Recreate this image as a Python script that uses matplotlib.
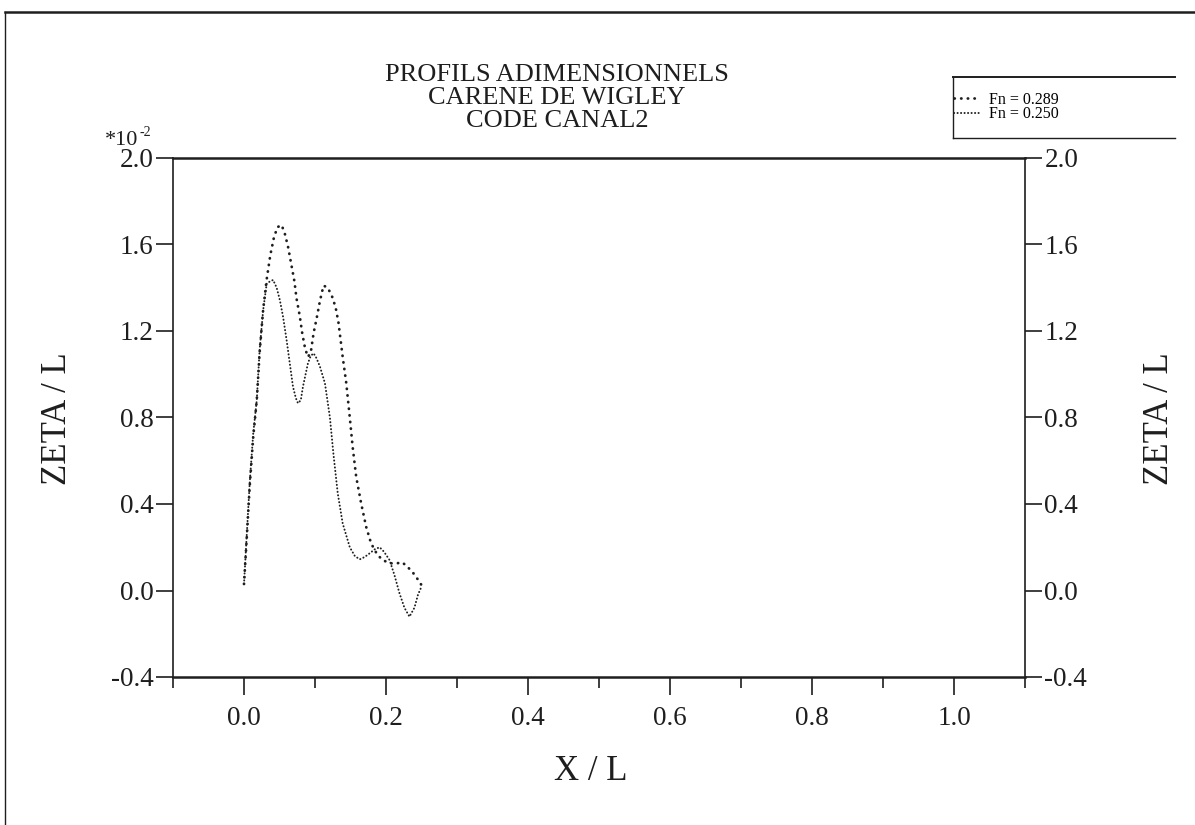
import matplotlib
matplotlib.use('Agg')
import matplotlib.pyplot as plt
from matplotlib.lines import Line2D
import numpy as np

plt.rcParams['font.family'] = ['Liberation Serif', 'DejaVu Serif']

# Fn = 0.289 (sparse dots)
x289 = [0.0, 0.004, 0.008, 0.013, 0.018, 0.022, 0.027, 0.032, 0.037, 0.042, 0.047, 0.053,
        0.0575, 0.062, 0.0665, 0.071, 0.0740, 0.0785, 0.082, 0.086, 0.090, 0.094, 0.098, 0.103,
        0.107, 0.112, 0.118, 0.124, 0.129, 0.133, 0.139, 0.144, 0.149, 0.153, 0.158, 0.165,
        0.172, 0.179, 0.188, 0.196, 0.205, 0.214, 0.223, 0.230, 0.237, 0.244, 0.250]
y289 = [0.03, 0.25, 0.48, 0.71, 0.88, 1.10, 1.30, 1.44, 1.55, 1.63, 1.68, 1.69,
        1.65, 1.59, 1.51, 1.43, 1.35, 1.27, 1.19, 1.12, 1.08, 1.10, 1.19, 1.27,
        1.34, 1.41, 1.40, 1.36, 1.31, 1.24, 1.08, 0.96, 0.80, 0.665, 0.526, 0.403,
        0.295, 0.218, 0.164, 0.14, 0.126, 0.125, 0.13, 0.11, 0.087, 0.055, 0.025]

# Fn = 0.250 (dense dots)
x250 = [0.0, 0.004, 0.008, 0.013, 0.018, 0.022, 0.027, 0.032, 0.037, 0.041, 0.046, 0.0505,
        0.055, 0.060, 0.0645, 0.069, 0.073, 0.076, 0.080, 0.083, 0.090, 0.094, 0.098, 0.102,
        0.107, 0.114, 0.121, 0.126, 0.132, 0.139, 0.149, 0.156, 0.163, 0.170, 0.177, 0.184,
        0.191, 0.197, 0.205, 0.212, 0.219, 0.226, 0.233, 0.240, 0.245, 0.250]
y250 = [0.03, 0.265, 0.496, 0.727, 0.881, 1.112, 1.297, 1.42, 1.43, 1.436, 1.40, 1.343,
        1.266, 1.158, 1.05, 0.942, 0.89, 0.866, 0.88, 0.942, 1.05, 1.085, 1.097, 1.075,
        1.035, 0.958, 0.80, 0.63, 0.45, 0.31, 0.20, 0.16, 0.144, 0.155, 0.172, 0.19,
        0.20, 0.18, 0.141, 0.07, -0.013, -0.08, -0.121, -0.08, -0.02, 0.018]

xticks = [0.0, 0.2, 0.4, 0.6, 0.8, 1.0]
xminor = [-0.1, 0.1, 0.3, 0.5, 0.7, 0.9, 1.1]
yticks = [-0.4, 0.0, 0.4, 0.8, 1.2, 1.6, 2.0]

title_lines = ['PROFILS ADIMENSIONNELS', 'CARENE DE WIGLEY', 'CODE CANAL2']
labels = ['Fn = 0.289', 'Fn = 0.250']

ink = '#1e1e1e'
W, H = 1195.0, 825.0

fig = plt.figure(figsize=(11.95, 8.25), dpi=100)
ax = fig.add_axes([173 / W, 1 - 677 / H, (1025 - 173) / W, (677 - 158) / H])

l1, = ax.plot(x289, y289, color=ink, lw=2.0, linestyle=(0, (0.1, 2.3)),
              dash_capstyle='round')
l2, = ax.plot(x250, y250, color=ink, lw=1.4, linestyle=(0, (0.1, 1.7)),
              dash_capstyle='round')

ax.set_xlim(-0.1, 1.1)
ax.set_ylim(-0.4, 2.0)
ax.set_xticks(xticks)
ax.set_xticklabels(['%.1f' % v for v in xticks])
ax.set_xticks(xminor, minor=True)
ax.set_yticks(yticks)
ax.set_yticklabels(['%.1f' % v for v in yticks])

ax.tick_params(axis='x', which='major', direction='out', length=13, width=1.2,
               labelsize=19.5, pad=8, colors=ink)
ax.tick_params(axis='x', which='minor', direction='out', length=8, width=1.2, colors=ink)
ax.tick_params(axis='y', which='major', direction='out', length=12, width=1.2,
               labelsize=19.5, pad=2, left=True, right=True, labelleft=True,
               labelright=True, colors=ink)
for s in ax.spines.values():
    s.set_linewidth(1.2)
    s.set_color(ink)
ax.spines['bottom'].set_linewidth(1.8)
ax.spines['top'].set_linewidth(1.8)

# axis labels
fig.text(591 / W, 1 - 771 / H, 'X / L', fontsize=25, ha='center', va='center', color=ink)
fig.text(58 / W, 1 - 419 / H, 'ZETA / L', fontsize=25, rotation=90,
         ha='center', va='center', color=ink)
fig.text(1160 / W, 1 - 419 / H, 'ZETA / L', fontsize=25, rotation=90,
         ha='center', va='center', color=ink)

# title block
for i, t in enumerate(title_lines):
    fig.text(557 / W, 1 - (75 + i * 23) / H, t, fontsize=19, ha='center',
             va='center', color=ink)

# scale factor
fig.text(105 / W, 1 - 145 / H, '*10', fontsize=16, ha='left', va='baseline', color=ink)
fig.text(139 / W, 1 - 136 / H, '-2', fontsize=10, ha='left', va='baseline', color=ink)

# legend box
fig.add_artist(Line2D([953 / W, 1175 / W], [1 - 77 / H, 1 - 77 / H],
                      transform=fig.transFigure, color=ink, lw=1.4))
fig.add_artist(Line2D([953 / W, 1175 / W], [1 - 138 / H, 1 - 138 / H],
                      transform=fig.transFigure, color=ink, lw=1.0))
fig.add_artist(Line2D([953 / W, 953 / W], [1 - 77 / H, 1 - 138 / H],
                      transform=fig.transFigure, color=ink, lw=1.0))
fig.legend([l1, l2], labels, loc='upper left',
           bbox_to_anchor=(954 / W, 1 - 92 / H), frameon=False, fontsize=11.5,
           handlelength=1.6, handletextpad=0.6, labelspacing=-0.1, borderpad=0,
           borderaxespad=0)

# outer frame
fig.add_artist(Line2D([5 / W, 1], [1 - 12 / H, 1 - 12 / H],
                      transform=fig.transFigure, color=ink, lw=1.8))
fig.add_artist(Line2D([5 / W, 5 / W], [1 - 12 / H, 0],
                      transform=fig.transFigure, color=ink, lw=1.0))

fig.savefig('out.png', dpi=100)
